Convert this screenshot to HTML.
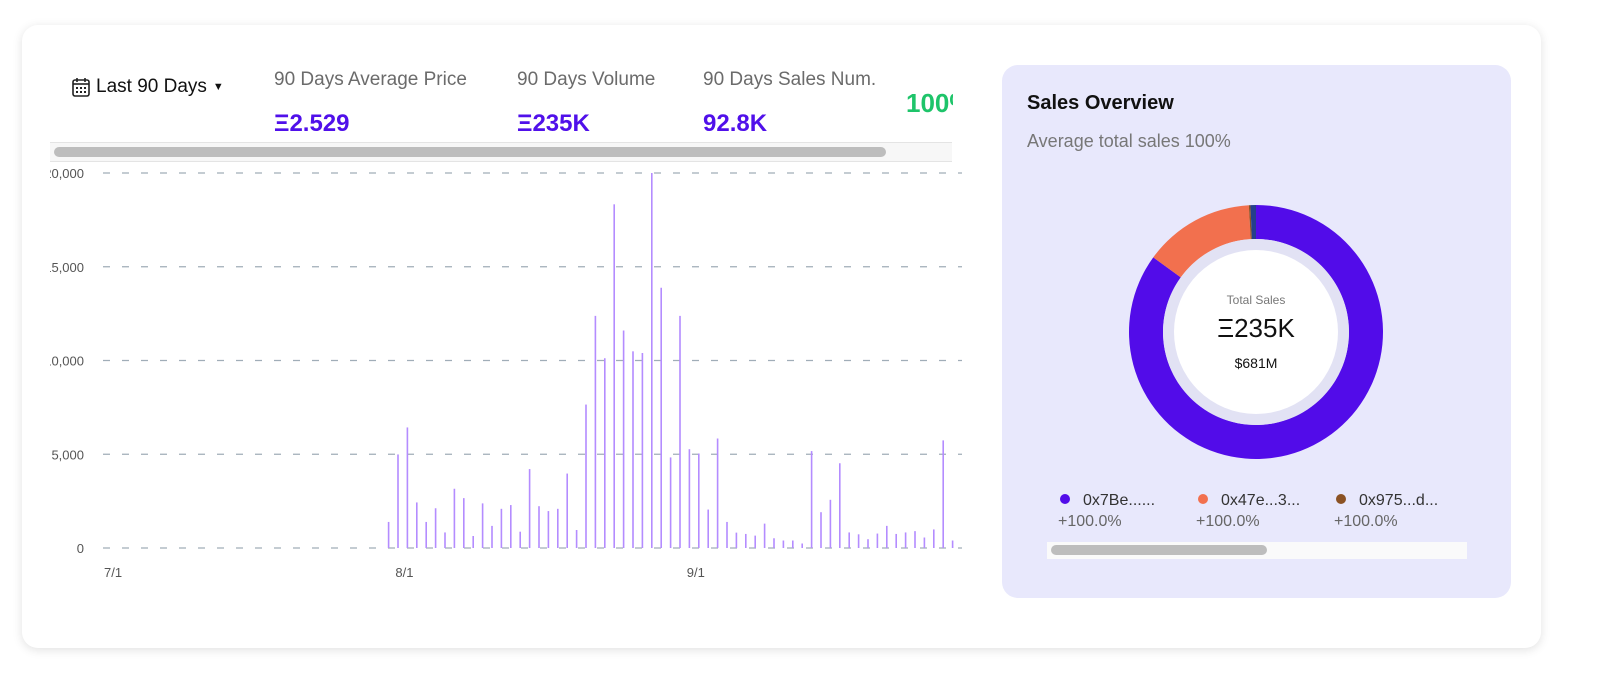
<!DOCTYPE html>
<html><head><meta charset="utf-8"><style>
body{margin:0;width:1600px;height:687px;background:#fff;font-family:"Liberation Sans",sans-serif;position:relative;overflow:hidden}
.card{position:absolute;left:22px;top:25px;width:1519px;height:623px;background:#fff;border-radius:16px;box-shadow:0 2px 10px rgba(0,0,0,.12)}
.abs{position:absolute}
.lbl{font-size:19px;color:#6b6b6b}
.val{font-size:24px;font-weight:bold;color:#5010ea}
.panel{position:absolute;left:1002px;top:65px;width:509px;height:533px;background:#e8e8fc;border-radius:16px}
</style></head><body>
<div class="card"></div>
<div class="abs" style="left:72px;top:76px;font-size:19px;color:#111;display:flex;align-items:center;gap:6px">
<svg width="18" height="20" viewBox="0 0 18 20"><rect x="1" y="3" width="16" height="16" rx="2" fill="none" stroke="#222" stroke-width="1.6"/><line x1="1" y1="7" x2="17" y2="7" stroke="#222" stroke-width="1.6"/><line x1="5" y1="1" x2="5" y2="5" stroke="#222" stroke-width="1.6"/><line x1="13" y1="1" x2="13" y2="5" stroke="#222" stroke-width="1.6"/><g fill="#222"><rect x="4" y="10" width="2" height="2"/><rect x="8" y="10" width="2" height="2"/><rect x="12" y="10" width="2" height="2"/><rect x="4" y="14" width="2" height="2"/><rect x="8" y="14" width="2" height="2"/><rect x="12" y="14" width="2" height="2"/></g></svg>
<span>Last 90 Days</span><span style="font-size:11px">▼</span></div>
<div class="abs lbl" style="left:274px;top:69px">90 Days Average Price</div>
<div class="abs val" style="left:274px;top:110px">Ξ2.529</div>
<div class="abs lbl" style="left:517px;top:69px">90 Days Volume</div>
<div class="abs val" style="left:517px;top:110px">Ξ235K</div>
<div class="abs lbl" style="left:703px;top:69px">90 Days Sales Num.</div>
<div class="abs val" style="left:703px;top:110px">92.8K</div>
<div class="abs" style="left:906px;top:88px;width:47px;overflow:hidden;font-size:26px;font-weight:bold;color:#1ec46a;white-space:nowrap">100%</div>
<div class="abs" style="left:50px;top:142px;width:902px;height:18px;background:#f7f7f7;border-top:1px solid #e4e4e4;border-bottom:1px solid #e4e4e4"></div>
<div class="abs" style="left:54px;top:147px;width:832px;height:10px;background:#bdbdbd;border-radius:5px"></div>
<svg class="abs" style="left:0;top:0" width="1000" height="600" id="chart"></svg>

<div class="panel"></div>
<div class="abs" style="left:1027px;top:92px;font-size:20px;font-weight:bold;color:#111">Sales Overview</div>
<div class="abs" style="left:1027px;top:131px;font-size:18px;color:#777">Average total sales 100%</div>
<svg class="abs" style="left:1120px;top:195px" width="272" height="272" id="donut"></svg>
<div class="abs" style="left:1156px;top:293px;width:200px;text-align:center;font-size:12px;color:#777">Total Sales</div>
<div class="abs" style="left:1156px;top:313px;width:200px;text-align:center;font-size:26px;color:#111">Ξ235K</div>
<div class="abs" style="left:1156px;top:355px;width:200px;text-align:center;font-size:14px;color:#111">$681M</div>
<div id="legend"></div>
<div class="abs" style="left:1047px;top:542px;width:420px;height:17px;background:#fafafa"></div>
<div class="abs" style="left:1051px;top:545px;width:216px;height:10px;background:#bdbdbd;border-radius:5px"></div>
<script>
const dayLabels=["7/1","8/1","9/1"];
const dayLabelIdx=[0,31,62];
const yTicks=[0,5000,10000,15000,20000];
const yTickLabels=["0","5,000","10,000","15,000","20,000"];
const firstDay=29;
const volumes=[1390,4990,6430,2430,1390,2120,830,3160,2660,640,2380,1180,
2090,2290,870,4210,2230,1970,2090,3970,960,7650,12380,10120,18330,11600,10490,10400,20000,13880,4830,12380,5270,5040,2050,5840,1390,820,750,660,1300,520,400,400,240,5170,1910,2570,4520,830,730,470,770,1180,750,830,900,560,990,5740,400];
const NS="http://www.w3.org/2000/svg";
const svg=document.getElementById('chart');
const x0=116,dx=9.4,y0=548,yTop=173,yMax=20000;
const X=i=>x0+i*dx;
const Y=v=>y0-(v/yMax)*(y0-yTop);
function mk(t,a){const e=document.createElementNS(NS,t);for(const k in a)e.setAttribute(k,a[k]);return e;}
const clip=mk('clipPath',{id:'cl'});clip.appendChild(mk('rect',{x:50,y:150,width:902,height:450}));svg.appendChild(clip);
yTicks.forEach((v,i)=>{
 const l=mk('line',{x1:103,x2:962,y1:Y(v),y2:Y(v),stroke:'#a0adb8','stroke-width':1.2,'stroke-dasharray':'7 12'});
 
 
 svg.appendChild(l);
 const t=mk('text',{x:84,y:Y(v)+5,'text-anchor':'end','font-size':13,fill:'#555','clip-path':'url(#cl)'});
 t.textContent=yTickLabels[i];
 
 
 svg.appendChild(t);
});
dayLabels.forEach((s,i)=>{
 const t=mk('text',{x:X(dayLabelIdx[i])-12,y:577,'font-size':13,fill:'#555'});
 t.textContent=s;
 
 
 svg.appendChild(t);
});
volumes.forEach((v,i)=>{
 const x=X(firstDay+i);
 const r=mk('rect',{x:x-0.8,y:Y(v),width:1.6,height:y0-Y(v),fill:'#b48cff'});
 
 
 svg.appendChild(r);
});
// donut
const sliceNames=["0x7Be......","0x47e...3...","0x975...d...","other"];
const sliceValues=[85.0,14.1,0.2,0.7];
const sliceColors=["#520ce9","#f2704e","#8b5224","#243f8c"];
const ds=document.getElementById('donut');
const cx=136,cy=137,R=127,r=93;
const tot=sliceValues.reduce((a,b)=>a+b,0);
let a=0;
function pt(rad,ang){return [cx+rad*Math.sin(ang),cy-rad*Math.cos(ang)];}
sliceValues.forEach((v,i)=>{
 const a1=a+v/tot*2*Math.PI;const lg=(a1-a)>Math.PI?1:0;
 const [p1x,p1y]=pt(R,a),[p2x,p2y]=pt(R,a1),[p3x,p3y]=pt(r,a1),[p4x,p4y]=pt(r,a);
 const p=mk('path',{d:`M${p1x},${p1y}A${R},${R} 0 ${lg} 1 ${p2x},${p2y}L${p3x},${p3y}A${r},${r} 0 ${lg} 0 ${p4x},${p4y}Z`,fill:sliceColors[i]});
 
 
 ds.appendChild(p);a=a1;
});
const inner=mk('circle',{cx:cx,cy:cy,r:r,fill:'#e2e2f4'});


ds.appendChild(inner);
const wc=mk('circle',{cx:cx,cy:cy,r:82,fill:'#fff'});


ds.appendChild(wc);
const lg=document.getElementById('legend');
const legX=[1058,1196,1334];
for(let i=0;i<3;i++){
 const d=document.createElement('div');
 d.className='abs';
 
 
 d.style.cssText=`left:${legX[i]}px;top:490px;font-size:16px;color:#333;line-height:21px`;
 d.innerHTML=`<span style="display:inline-block;width:10px;height:10px;border-radius:50%;background:${sliceColors[i]};margin:0 13px 1px 2px"></span>${sliceNames[i]}<br><span style="color:#666">+100.0%</span>`;
 lg.appendChild(d);
}
</script>
</body></html>
